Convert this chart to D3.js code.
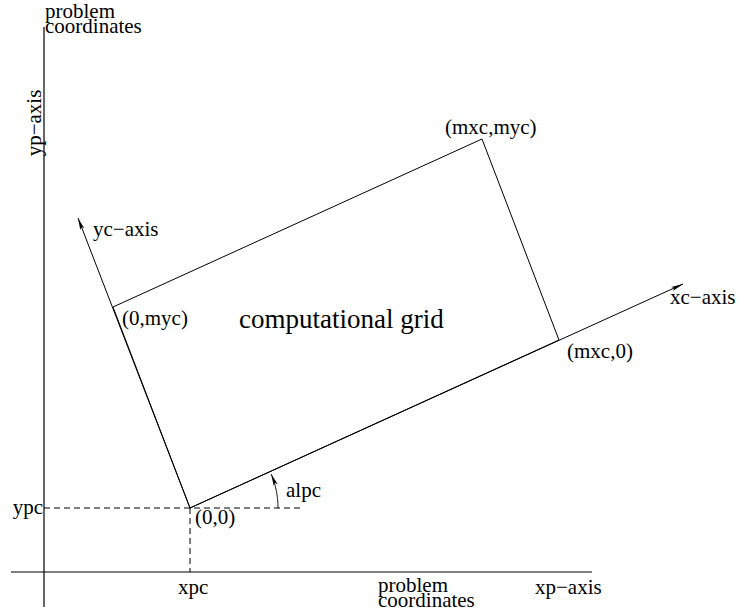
<!DOCTYPE html>
<html>
<head>
<meta charset="utf-8">
<script src="https://cdn.jsdelivr.net/npm/d3@7"></script>
<style>
  body { margin: 0; background: #fff; }
  svg text { font-family: "Liberation Serif", Tinos, "Times New Roman", Times, serif; fill: #000; }
</style>
</head>
<body>
<svg id="fig" width="739" height="612"></svg>
<script>
// problem coordinates (1 unit = 5 px)
var xpAxis = [-6.6, 109.6];       // xp-axis extent
var ypAxis = [-7, 109];           // yp-axis extent
var origin = [29.2, 12.8];        // (xpc, ypc)
var gridCorners = [[29.2, 12.8], [103, 46.4], [87.6, 86.6], [13.8, 53]];
var xcTip = [127.8, 57.6];
var ycTip = [6.8, 70.8];
var alpcEnd = 51.6;               // where the dashed ref line stops
var cornerNames = ['(0,0)', '(mxc,0)', '(mxc,myc)', '(0,myc)'];
var axisNames = ['xp\u2212axis', 'yp\u2212axis', 'xc\u2212axis', 'yc\u2212axis'];

var svg = d3.select('#fig');
var x = d3.scaleLinear().domain([0, 110]).range([44, 594]);
var y = d3.scaleLinear().domain([0, 109]).range([572, 27]);

var defs = svg.append('defs');
defs.append('marker')
  .attr('id', 'arrow')
  .attr('viewBox', '0 0 12 6')
  .attr('refX', 12).attr('refY', 3)
  .attr('markerWidth', 12).attr('markerHeight', 6)
  .attr('markerUnits', 'userSpaceOnUse')
  .attr('orient', 'auto')
  .append('path')
  .attr('d', 'M0,0.8 L12,3 L0,5.2 L2.5,3 Z')
  .attr('fill', '#000');

var line = d3.line().x(function(d) { return x(d[0]); }).y(function(d) { return y(d[1]); });

// problem axes
svg.append('line')
  .attr('x1', x(xpAxis[0])).attr('x2', x(xpAxis[1]))
  .attr('y1', y(0)).attr('y2', y(0))
  .attr('stroke', '#000').attr('stroke-width', 1.2);
svg.append('line')
  .attr('x1', x(0)).attr('x2', x(0))
  .attr('y1', y(ypAxis[0])).attr('y2', y(ypAxis[1]))
  .attr('stroke', '#000').attr('stroke-width', 1.2);

// dashed reference lines through (xpc, ypc)
svg.append('path')
  .attr('d', line([[0, origin[1]], [alpcEnd, origin[1]]]))
  .attr('stroke', '#000').attr('stroke-width', 1).attr('fill', 'none')
  .attr('stroke-dasharray', '6,4');
svg.append('path')
  .attr('d', line([origin, [origin[0], 0]]))
  .attr('stroke', '#000').attr('stroke-width', 1).attr('fill', 'none')
  .attr('stroke-dasharray', '6,4');

// computational grid
svg.append('path')
  .attr('d', line(gridCorners) + 'Z')
  .attr('stroke', '#000').attr('stroke-width', 1).attr('fill', 'none');

// computational axes
[xcTip, ycTip].forEach(function(tip) {
  svg.append('path')
    .attr('d', line([origin, tip]))
    .attr('stroke', '#000').attr('stroke-width', 1).attr('fill', 'none')
    .attr('marker-end', 'url(#arrow)');
});

// alpc arc
var ox = x(origin[0]), oy = y(origin[1]);
var ang = Math.atan2(y(origin[1]) - y(gridCorners[1][1]), x(gridCorners[1][0]) - x(origin[0]));
var R = 88;
var arcPts = d3.range(0, 41).map(function(i) {
  var a = ang * 0.93 * i / 40;
  return [ox + R * Math.cos(a), oy - R * Math.sin(a)];
});
svg.append('path')
  .attr('d', d3.line()(arcPts))
  .attr('stroke', '#000').attr('stroke-width', 1).attr('fill', 'none')
  .attr('marker-end', 'url(#arrow)');

// labels
function label(txt, px, py, size, anchor, rot) {
  svg.append('text')
    .attr('transform', 'translate(' + px + ',' + py + ')' + (rot ? ' rotate(' + rot + ')' : ''))
    .attr('font-size', size)
    .attr('text-anchor', anchor || 'start')
    .text(txt);
}

var FS = 21, BIG = 27;
label('problem', 45, 18, FS);
label('coordinates', 45, 33, FS);
label(axisNames[1], 41, 123, FS, 'middle', -90);
label(axisNames[3], 93, 236, FS);
label(cornerNames[3], 122, 325, FS);
label('computational grid', 239, 328, BIG);
label(cornerNames[2], 445, 134, FS);
label(axisNames[2], 670, 304, FS);
label(cornerNames[1], 567, 358, FS);
label('alpc', 286, 497, FS);
label(cornerNames[0], 195, 524, FS);
label('ypc', 43, 514, FS, 'end');
label('xpc', 178, 594, FS);
label('problem', 378, 592, FS);
label('coordinates', 378, 607, FS);
label(axisNames[0], 535, 594, FS);
</script>
</body>
</html>
